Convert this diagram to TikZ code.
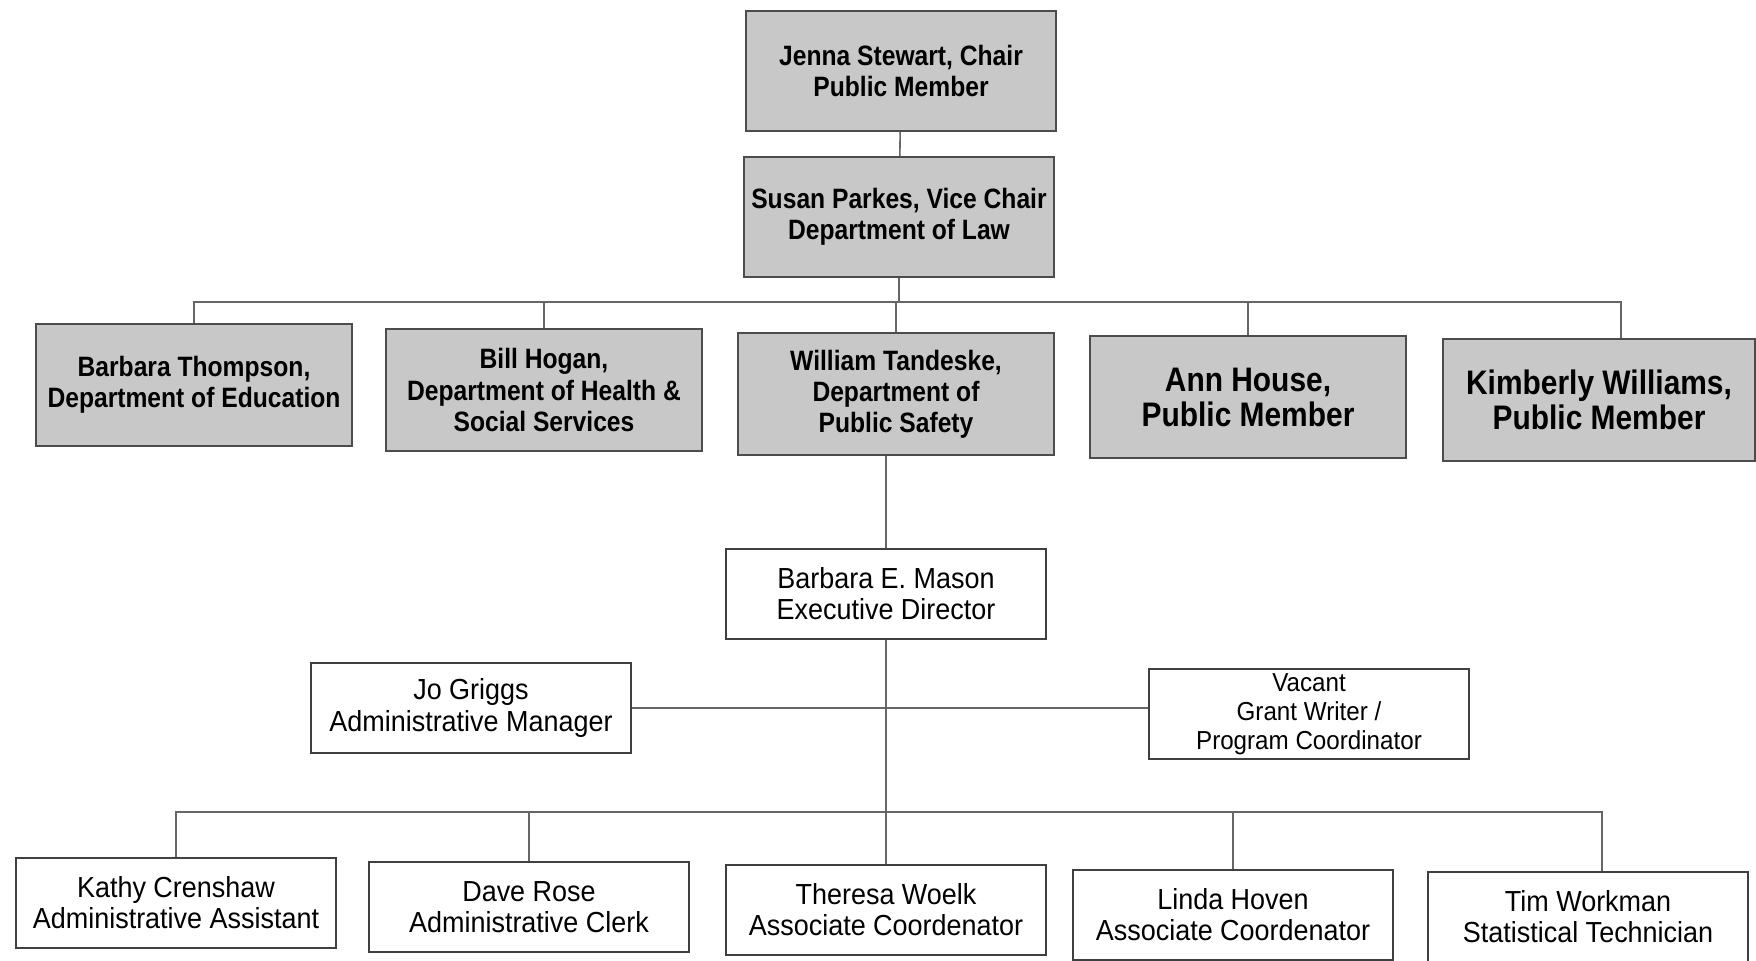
\documentclass[tikz,border=0pt]{standalone}
\usepackage{fontspec}
\usepackage{tikz}
\usetikzlibrary{positioning}
\newfontfamily\boardfont[FakeStretch=0.88]{Liberation Sans}
\newfontfamily\stafffont[FakeStretch=0.93]{Liberation Sans}
\definecolor{boardgray}{RGB}{200,200,200}

\begin{document}
\begin{tikzpicture}[x=0.5pt,y=-0.5pt,
                    line/.style={draw=black!60,line width=0.8pt}]
  \tikzstyle{board}=[draw=black!70,line width=1.1pt,fill=boardgray,align=center,
                     inner sep=0pt,minimum width=158pt,minimum height=61pt,
                     font=\boardfont\bfseries\fontsize{14}{15.6}\selectfont]
  \tikzstyle{bigboard}=[board,font=\boardfont\bfseries\fontsize{17}{17.5}\selectfont]
  \tikzstyle{staff}=[draw=black!75,line width=0.8pt,fill=white,align=center,
                     inner sep=0pt,minimum width=160pt,minimum height=45pt,
                     font=\stafffont\fontsize{14.5}{15.6}\selectfont]

  \useasboundingbox (0,0) rectangle (1756,961);

  % board
  \node[board,minimum width=155pt,minimum height=60pt] (chair) at (901,71)
        {Jenna Stewart, Chair\\Public Member};
  \node[board,minimum width=155pt,minimum height=60pt] (vice)  at (899,217)
        {Susan Parkes, Vice Chair\\Department of Law};
  \node[board]    (thompson) at (194,385)  {Barbara Thompson,\\Department of Education};
  \node[board]    (hogan)    at (544,390)  {Bill Hogan,\\Department of Health \&\\Social Services};
  \node[board]    (tandeske) at (896,394)  {William Tandeske,\\Department of\\Public Safety};
  \node[bigboard] (house)    at (1248,397) {Ann House,\\Public Member};
  \node[bigboard,minimum width=156pt] (williams) at (1599,400) {Kimberly Williams,\\Public Member};

  % staff
  \node[staff] (mason)    at (886,594)  {Barbara E. Mason\\Executive Director};
  \node[staff] (griggs)   at (471,708)  {Jo Griggs\\Administrative Manager};
  \node[staff,font=\stafffont\fontsize{13}{14.6}\selectfont]
               (vacant)   at (1309,714) {Vacant\\Grant Writer /\\Program Coordinator};
  \node[staff] (crenshaw) at (176,903)  {Kathy Crenshaw\\Administrative Assistant};
  \node[staff] (rose)     at (529,907)  {Dave Rose\\Administrative Clerk};
  \node[staff] (woelk)    at (886,910)  {Theresa Woelk\\Associate Coordenator};
  \node[staff] (hoven)    at (1233,915) {Linda Hoven\\Associate Coordenator};
  \node[staff] (workman)  at (1588,917) {Tim Workman\\Statistical Technician};

  \coordinate (bus1) at (899,302);
  \coordinate (bus2) at (886,812);

  \draw[line] (chair) -- (vice);
  \draw[line] (vice) -- (bus1);
  \draw[line] (thompson.north) |- (bus1) -| ([xshift=11pt]williams.north);
  \foreach \n in {hogan,tandeske,house}
    \draw[line] (\n.north) -- (\n.north |- bus1);
  \draw[line] (mason.north) -- (mason.north |- tandeske.south);
  \draw[line] (griggs.east) -- (griggs.east -| vacant.west);
  \draw[line] (mason) -- (woelk);
  \draw[line] (crenshaw.north) |- (bus2) -| ([xshift=7pt]workman.north);
  \foreach \n in {rose,hoven}
    \draw[line] (\n.north) -- (\n.north |- bus2);
\end{tikzpicture}
\end{document}
